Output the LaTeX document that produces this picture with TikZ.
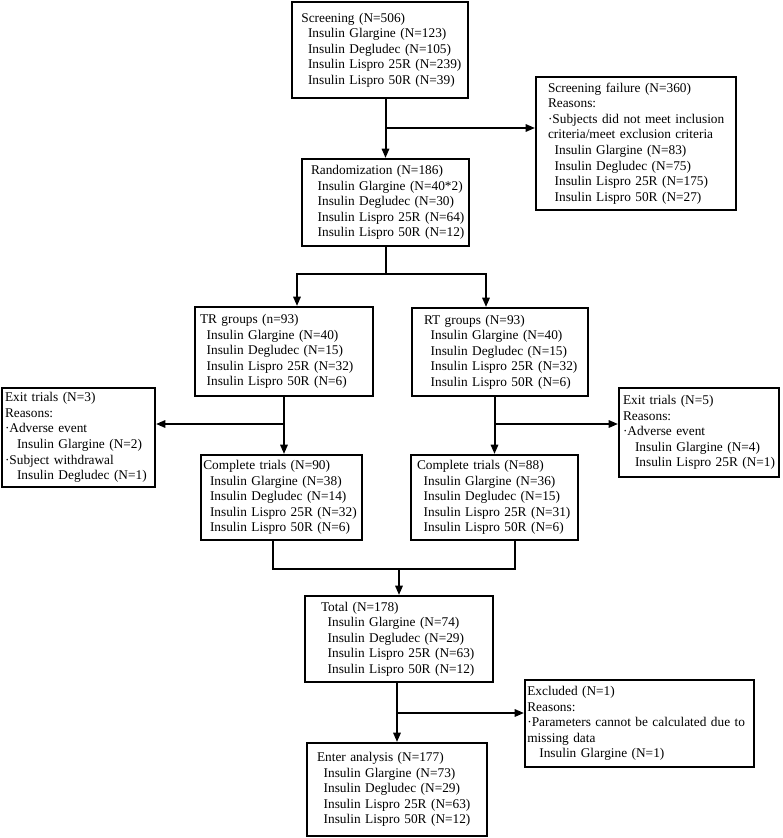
\documentclass[tikz,border=0pt]{standalone}
\usepackage{fontspec}
\setmainfont{Liberation Serif}
\usetikzlibrary{arrows.meta,calc}
\newcommand{\lpad}[1]{\leftskip=#1\relax}
\newcommand{\ind}{\hspace*{5pt}}
\newcommand{\indd}{\hspace*{9pt}}

\begin{document}
\begin{tikzpicture}[x=0.75pt,y=0.75pt,yscale=-1,
  box/.style={draw, line width=1.5pt, align=left, font=\fontsize{10}{11.7}\selectfont, inner xsep=1pt, inner ysep=0pt},
  line/.style={line width=1.5pt},
  arr/.style={line width=1.5pt, -{Triangle[length=7pt,width=5.5pt]}}]
\useasboundingbox (0,0) rectangle (782,838);

%Shape: Rectangle [screening]
\node [box, text width=130pt, minimum height=72pt] (screen) at (380,50)
  {\lpad{6pt}Screening (N=506)\\\ind Insulin Glargine (N=123)\\\ind Insulin Degludec (N=105)\\\ind Insulin Lispro 25R (N=239)\\\ind Insulin Lispro 50R (N=39)\endgraf};
%Shape: Rectangle [screening failure]
\node [box, text width=148pt, minimum height=99.75pt] (fail) at (636,143.5)
  {\lpad{8pt}Screening failure (N=360)\\Reasons:\\·Subjects did not meet inclusion\\criteria/meet exclusion criteria\\\ind Insulin Glargine (N=83)\\\ind Insulin Degludec (N=75)\\\ind Insulin Lispro 25R (N=175)\\\ind Insulin Lispro 50R (N=27)\endgraf};
%Shape: Rectangle [randomization]
\node [box, text width=123.25pt, minimum height=65.25pt] (rand) at (385.5,202.5)
  {\lpad{5.75pt}Randomization (N=186)\\\ind Insulin Glargine (N=40*2)\\\ind Insulin Degludec (N=30)\\\ind Insulin Lispro 25R (N=64)\\\ind Insulin Lispro 50R (N=12)\endgraf};
%Shape: Rectangle [TR]
\node [box, text width=131.5pt, minimum height=66.75pt] (tr) at (284,351.5)
  {\lpad{2.75pt}TR groups (n=93)\\\ind Insulin Glargine (N=40)\\\ind Insulin Degludec (N=15)\\\ind Insulin Lispro 25R (N=32)\\\ind Insulin Lispro 50R (N=6)\endgraf};
%Shape: Rectangle [RT]
\node [box, text width=130pt, minimum height=66pt] (rt) at (500,352)
  {\lpad{8pt}RT groups (N=93)\\\ind Insulin Glargine (N=40)\\\ind Insulin Degludec (N=15)\\\ind Insulin Lispro 25R (N=32)\\\ind Insulin Lispro 50R (N=6)\endgraf};
%Shape: Rectangle [exit left]
\node [box, text width=112.75pt, minimum height=74.25pt] (exitL) at (78.5,437.5)
  {\lpad{1.25pt}Exit trials (N=3)\\Reasons:\\·Adverse event\\\indd Insulin Glargine (N=2)\\·Subject withdrawal\\\indd Insulin Degludec (N=1)\endgraf};
%Shape: Rectangle [exit right]
\node [box, text width=118pt, minimum height=66.75pt] (exitR) at (699,432.5)
  {\lpad{2pt}Exit trials (N=5)\\Reasons:\\·Adverse event\\\indd Insulin Glargine (N=4)\\\indd Insulin Lispro 25R (N=1)\endgraf};
%Shape: Rectangle [complete left]
\node [box, text width=118.75pt, minimum height=63.75pt] (compL) at (281.5,497.5)
  {\lpad{0.75pt}Complete trials (N=90)\\\ind Insulin Glargine (N=38)\\\ind Insulin Degludec (N=14)\\\ind Insulin Lispro 25R (N=32)\\\ind Insulin Lispro 50R (N=6)\endgraf};
%Shape: Rectangle [complete right]
\node [box, text width=123.25pt, minimum height=63.75pt] (compR) at (494.5,497.5)
  {\lpad{3.5pt}Complete trials (N=88)\\\ind Insulin Glargine (N=36)\\\ind Insulin Degludec (N=15)\\\ind Insulin Lispro 25R (N=31)\\\ind Insulin Lispro 50R (N=6)\endgraf};
%Shape: Rectangle [total]
\node [box, text width=139pt, minimum height=64.5pt] (total) at (399,639)
  {\lpad{11pt}Total (N=178)\\\ind Insulin Glargine (N=74)\\\ind Insulin Degludec (N=29)\\\ind Insulin Lispro 25R (N=63)\\\ind Insulin Lispro 50R (N=12)\endgraf};
%Shape: Rectangle [excluded]
\node [box, text width=169.75pt, minimum height=65.25pt] (excl) at (639.5,723.5)
  {\lpad{0.75pt}Excluded (N=1)\\Reasons:\\·Parameters cannot be calculated due to\\missing data\\\indd Insulin Glargine (N=1)\endgraf};
%Shape: Rectangle [enter analysis]
\node [box, text width=133pt, minimum height=69.75pt] (enter) at (397,789.5)
  {\lpad{6.5pt}Enter analysis (N=177)\\\ind Insulin Glargine (N=73)\\\ind Insulin Degludec (N=29)\\\ind Insulin Lispro 25R (N=63)\\\ind Insulin Lispro 50R (N=12)\endgraf};

%Straight Lines
\draw [arr] (screen.south -| rand.north) -- (rand.north);
\path (screen.south -| rand.north) ++(0,29) coordinate (sx);
\draw [arr] (sx) -- (sx -| fail.west);
%Straight Lines
\path (rand.south) ++(0,27) coordinate (split);
\draw [line] (rand.south) -- (split);
\draw [arr] (split) -| ([xshift=9.75pt]tr.north);
\draw [arr] (split) -| ([xshift=-10.5pt]rt.north);
%Straight Lines
\draw [arr] (tr.south) -- (tr.south |- compL.north);
\path (tr.south) ++(0,27) coordinate (trx);
\draw [arr] (trx) -- (trx -| exitL.east);
\draw [arr] (compR.north |- rt.south) -- (compR.north);
\path (compR.north |- rt.south) ++(0,27) coordinate (rtx);
\draw [arr] (rtx) -- (rtx -| exitR.west);
%Straight Lines
\path (compL.south) ++(0,28) coordinate (merge);
\draw [line] ([xshift=-6.4pt]compL.south) -- ++(0,28) -| ([xshift=15.4pt]compR.south);
\draw [arr] (merge -| total.north) -- (total.north);
%Straight Lines
\draw [arr] (total.south -| enter.north) -- (enter.north);
\path (total.south -| enter.north) ++(0,30) coordinate (exx);
\draw [arr] (exx) -- (exx -| excl.west);

\end{tikzpicture}
\end{document}
